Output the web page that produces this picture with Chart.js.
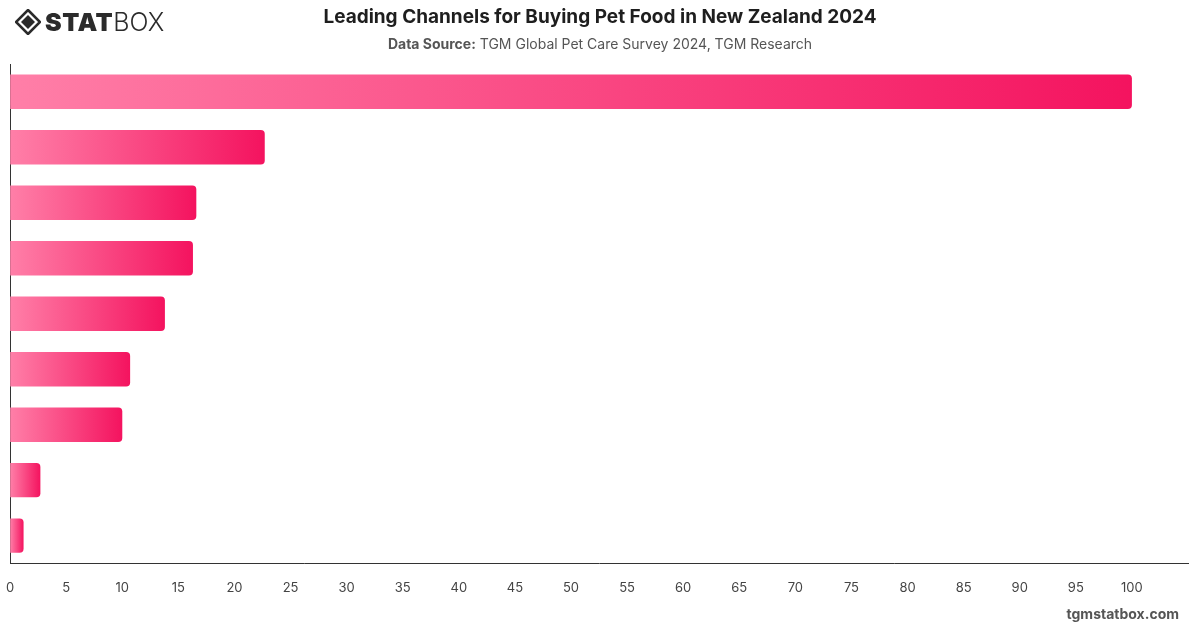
<!DOCTYPE html>
<html>
<head>
<meta charset="utf-8">
<script src="https://cdn.jsdelivr.net/npm/chart.js@4.4.1/dist/chart.umd.min.js"></script>
<style>
  html, body { margin: 0; padding: 0; background: #ffffff; }
  #wrap { position: relative; width: 1200px; height: 628px; overflow: hidden; font-family: Inter, "Noto Sans", Roboto, sans-serif; }
  #chart { position: absolute; left: -11px; top: 0; }
  #logo { position: absolute; left: 15px; top: 8px; height: 28px; display: flex; align-items: center; }
  #logo .stat { font-family: Inter, Roboto, sans-serif; font-weight: 900; font-size: 25px; color: #2b2b2b; letter-spacing: 0.5px; margin-left: 4px; }
  #logo .box { font-family: Inter, Roboto, sans-serif; font-weight: 300; font-size: 25px; color: #2b2b2b; letter-spacing: 0px; }
  #title { position: absolute; left: 0; width: 1200px; top: 5px; text-align: center; font-size: 19px; font-weight: 700; color: #1e1e1e; }
  #subtitle { position: absolute; left: 0; width: 1200px; top: 35px; text-align: center; font-size: 14px; color: #555; }
  #subtitle b { font-weight: 700; color: #555; }
  #footer { position: absolute; right: 21px; top: 605px; font-size: 14px; font-weight: 700; color: #555; }
</style>
</head>
<body>
<div id="wrap">
  <canvas id="chart" width="1200" height="628"></canvas>
  <div id="logo">
    <svg width="26" height="26" viewBox="0 0 26 26">
      <polygon points="13,1 25,13 13,25 1,13" fill="none" stroke="#2b2b2b" stroke-width="2.6"/>
      <polygon points="13,6 20,13 13,20 6,13" fill="#2b2b2b"/>
    </svg>
    <span class="stat">STAT</span><span class="box">BOX</span>
  </div>
  <div id="title">Leading Channels for Buying Pet Food in New Zealand 2024</div>
  <div id="subtitle"><b>Data Source:</b> TGM Global Pet Care Survey 2024, TGM Research</div>
  <div id="footer">tgmstatbox.com</div>
</div>
<script>
const categories = [
  "Supermarkets",
  "Pet stores",
  "Online pet stores",
  "Online marketplaces",
  "Discount stores",
  "Veterinary clinics",
  "Specialty stores",
  "Convenience stores",
  "Other"
];
const values = [100, 22.7, 16.6, 16.3, 13.8, 10.7, 10.0, 2.7, 1.2];
const xTickValues = [0, 5, 10, 15, 20, 25, 30, 35, 40, 45, 50, 55, 60, 65, 70, 75, 80, 85, 90, 95, 100];

const ctx = document.getElementById('chart').getContext('2d');
new Chart(ctx, {
  type: 'bar',
  data: {
    labels: categories,
    datasets: [{
      data: values,
      backgroundColor: function(c) {
        const chart = c.chart;
        if (!chart.chartArea || !chart.scales.x) return '#f7407e';
        const x = chart.scales.x;
        const x0 = x.getPixelForValue(0);
        const v = c.raw == null ? 0 : c.raw;
        const x1 = x.getPixelForValue(v);
        if (!isFinite(x0) || !isFinite(x1) || x1 - x0 < 1) return '#f7407e';
        const g = chart.ctx.createLinearGradient(x0, 0, x1, 0);
        g.addColorStop(0, '#ff7fa8');
        g.addColorStop(1, '#f4135f');
        return g;
      },
      borderRadius: 4,
      borderSkipped: 'start',
      barPercentage: 0.62,
      categoryPercentage: 1.0
    }]
  },
  options: {
    indexAxis: 'y',
    responsive: false,
    animation: false,
    layout: { padding: { top: 64, left: 1, right: 1, bottom: 15 } },
    plugins: {
      legend: { display: false },
      tooltip: { enabled: false },
      title: { display: false }
    },
    scales: {
      x: {
        type: 'linear',
        min: 0,
        max: 105,
        afterBuildTicks: function(axis) {
          axis.ticks = xTickValues.map(v => ({ value: v }));
        },
        grid: { display: false, drawTicks: false },
        border: { display: true, color: '#333333', width: 1 },
        ticks: {
          padding: 17,
          color: '#444444',
          font: { family: 'Inter, "Noto Sans", Roboto, sans-serif', size: 13 }
        }
      },
      y: {
        grid: { display: false, drawTicks: false },
        border: { display: true, color: '#333333', width: 1 },
        ticks: { display: false }
      }
    }
  }
});
</script>
</body>
</html>
